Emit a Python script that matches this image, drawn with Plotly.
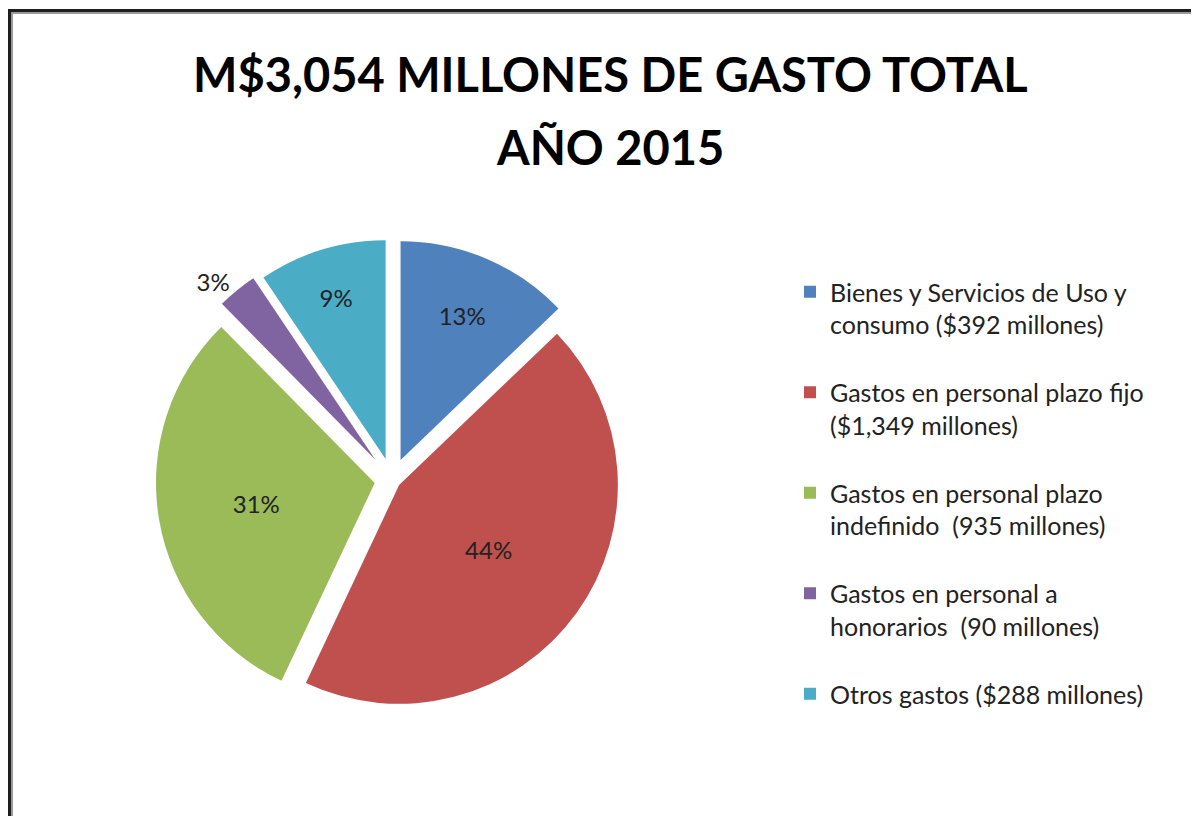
import plotly.graph_objects as go

labels = [
    "Bienes y Servicios de Uso y<br>consumo ($392 millones)",
    "Gastos en personal plazo fijo<br>($1,349 millones)",
    "Gastos en personal plazo<br>indefinido  (935 millones)",
    "Gastos en personal a<br>honorarios  (90 millones)",
    "Otros gastos ($288 millones)",
]
values = [392, 1349, 935, 90, 288]
colors = ["#4F81BD", "#C0504D", "#9BBB59", "#8064A2", "#4BACC6"]
pulls = [0.10, 0.04, 0.08, 0.12, 0.10]
text_pos = ["inside", "inside", "inside", "outside", "inside"]

title_lines = ["M$3,054 MILLONES DE GASTO TOTAL", "AÑO 2015"]

W, H = 1183, 808

fig = go.Figure()
fig.add_trace(go.Pie(
    labels=[l + "<br> " for l in labels],
    values=values,
    sort=False,
    direction="clockwise",
    rotation=0,
    pull=pulls,
    marker=dict(colors=colors, line=dict(width=0)),
    texttemplate="%{percent:.0%}",
    textposition=text_pos,
    insidetextorientation="horizontal",
    textfont=dict(family="Lato", size=24, color="#222222"),
    domain=dict(x=[139 / W, 629 / W], y=[91 / H, 581 / H]),
    hoverinfo="label+value+percent",
))

for i, (t, yc) in enumerate(zip(title_lines, [66, 139])):
    fig.add_annotation(
        text="<b>" + t + "</b>", xref="paper", yref="paper",
        x=602 / W, y=1 - yc / H, xanchor="center", yanchor="middle",
        showarrow=False, font=dict(family="Lato", size=47, color="#000000"),
    )

# chart border (left & top visible)
fig.add_shape(type="line", xref="paper", yref="paper", x0=1.5 / W, x1=1.5 / W, y0=0, y1=1 - 1.5 / H,
              line=dict(color="#1e1e1e", width=3))
fig.add_shape(type="line", xref="paper", yref="paper", x0=4 / W, x1=4 / W, y0=0, y1=1 - 4 / H,
              line=dict(color="#9a9a9a", width=2))
fig.add_shape(type="line", xref="paper", yref="paper", x0=0, x1=1, y0=1 - 2.5 / H, y1=1 - 2.5 / H,
              line=dict(color="#1e1e1e", width=3))
fig.add_shape(type="line", xref="paper", yref="paper", x0=4 / W, x1=1, y0=1 - 5 / H, y1=1 - 5 / H,
              line=dict(color="#9a9a9a", width=2))

fig.update_layout(
    width=W, height=H,
    margin=dict(l=0, r=0, t=0, b=0),
    paper_bgcolor="white",
    plot_bgcolor="white",
    showlegend=True,
    legend=dict(
        x=782 / W, y=1 - 261 / H, xanchor="left", yanchor="top",
        font=dict(family="Lato", size=25, color="#222222"),
        valign="top", bgcolor="rgba(0,0,0,0)",
    ),
)

fig.write_html("out.html")
